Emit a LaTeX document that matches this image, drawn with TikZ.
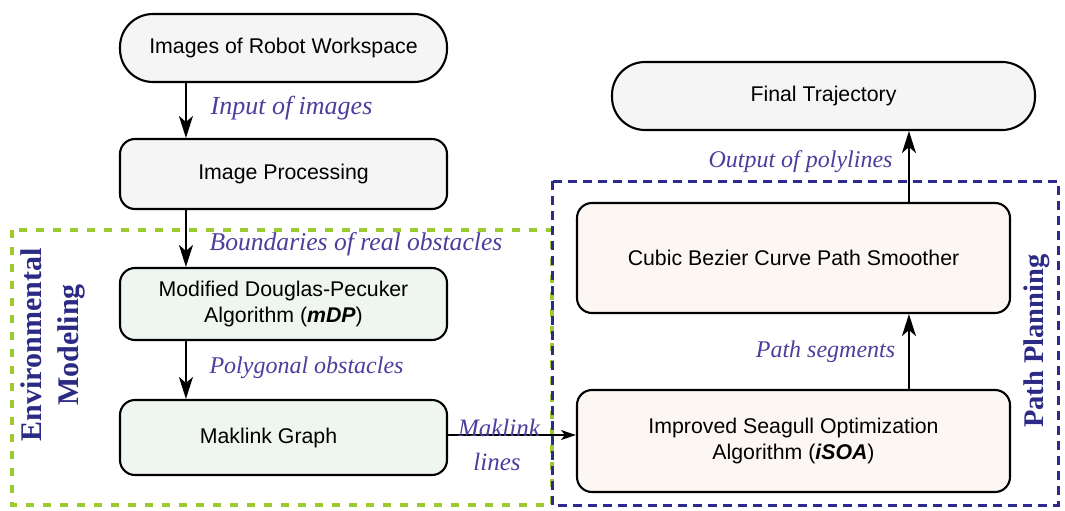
\documentclass[tikz,border=0pt]{standalone}
\usepackage{fontspec}
\setmainfont{Liberation Serif}
\setsansfont{Liberation Sans}
\usetikzlibrary{arrows.meta,calc}
\definecolor{lblc}{HTML}{4A3F9C}
\definecolor{ttlc}{HTML}{2B2A84}
\definecolor{dgreen}{HTML}{9BCB2E}
\definecolor{dblue}{HTML}{2C2A8C}
\definecolor{gfill}{HTML}{F5F5F5}
\definecolor{efill}{HTML}{EFF5EF}
\definecolor{pfill}{HTML}{FDF7F4}
\tikzset{
  box/.style={draw=black, line width=2.1pt, rounded corners=15pt, font=\sffamily\fontsize{21.3}{26}\selectfont, align=center, inner sep=0pt},
  term/.style={box, rounded corners=33pt},
  arr/.style={line width=1.9pt, -{Stealth[length=22pt,width=14pt,inset=6pt]}},
  lbl/.style={font=\rmfamily\itshape\fontsize{26}{31}\selectfont, text=lblc, inner sep=0pt},
  lbls/.style={lbl, font=\rmfamily\itshape\fontsize{24}{29}\selectfont},
  ttl/.style={font=\rmfamily\bfseries\fontsize{30}{37}\selectfont, text=ttlc, align=center, rotate=90, inner sep=0pt},
}
\begin{document}
\begin{tikzpicture}[x=1pt,y=-1pt]
\useasboundingbox (0,0) rectangle (1065,511);
% group frames
\draw[dgreen, line width=3.6pt, dash pattern=on 8pt off 9pt] (12,230) rectangle (552,505);
\draw[dblue, line width=3pt, dash pattern=on 9pt off 6pt] (552,181) rectangle (1058,505);
% nodes
\node[term, fill=gfill, minimum width=327pt, minimum height=68pt] (start) at (283.5,48) {Images of Robot Workspace};
\node[box, fill=gfill, minimum width=327pt, minimum height=70pt] (ip) at (283.5,174) {Image Processing};
\node[box, fill=efill, minimum width=327pt, minimum height=72pt] (mdp) at (283.5,304) {Modified Douglas-Pecuker\\Algorithm (\textbf{\textit{mDP}})};
\node[box, fill=efill, minimum width=327pt, minimum height=75pt] (mak) at (283.5,437.5) {\hspace*{-30pt}Maklink Graph};
\node[term, fill=gfill, minimum width=423pt, minimum height=68pt] (final) at (823.5,96) {Final Trajectory};
\node[box, fill=pfill, minimum width=433pt, minimum height=110pt] (cubic) at (793.5,258) {Cubic Bezier Curve Path Smoother};
\node[box, fill=pfill, minimum width=433pt, minimum height=102pt] (isoa) at (793.5,441) {Improved Seagull Optimization\\Algorithm (\textbf{\textit{iSOA}})};
% connectors
\draw[arr] ([xshift=67pt]start.south west) -- ([xshift=67pt]ip.north west);
\draw[arr] ([xshift=67pt]ip.south west) -- ([xshift=67pt]mdp.north west);
\draw[arr] ([xshift=67pt]mdp.south west) -- ([xshift=67pt]mak.north west);
\draw[line width=1.1pt, -{Stealth[length=15pt,width=10pt,inset=4pt]}] ([yshift=2.5pt]mak.east) -- ([yshift=2.5pt]mak.east -| isoa.west);
\draw[arr] ([xshift=333pt]isoa.north west) -- ([xshift=333pt]cubic.south west);
\draw[arr] ([xshift=333pt]cubic.north west) -- ([xshift=298pt]final.south west);
% labels
\node[lbl] (l1) at (291.5,108) {Input of images};
\node[lbl, font=\rmfamily\itshape\fontsize{25.6}{31}\selectfont] (l2) at (356,244) {Boundaries of real obstacles};
\node[lbls] (l3) at (306.5,368) {Polygonal obstacles};
\node[lbl, font=\rmfamily\itshape\fontsize{25}{30}\selectfont] (l4) at (499,428) {Maklink};
\node[lbl, font=\rmfamily\itshape\fontsize{25}{30}\selectfont] (l5) at (497,462) {lines};
\node[lbls] (l6) at (800.5,162) {Output of polylines};
\node[lbls] (l7) at (825.5,352) {Path segments};
% titles
\node[ttl] (env) at (53,345) {Environmental\\Modeling};
\node[ttl, font=\rmfamily\bfseries\fontsize{28.5}{34}\selectfont] (pp) at (1037,341) {Path Planning};
\end{tikzpicture}
\end{document}
